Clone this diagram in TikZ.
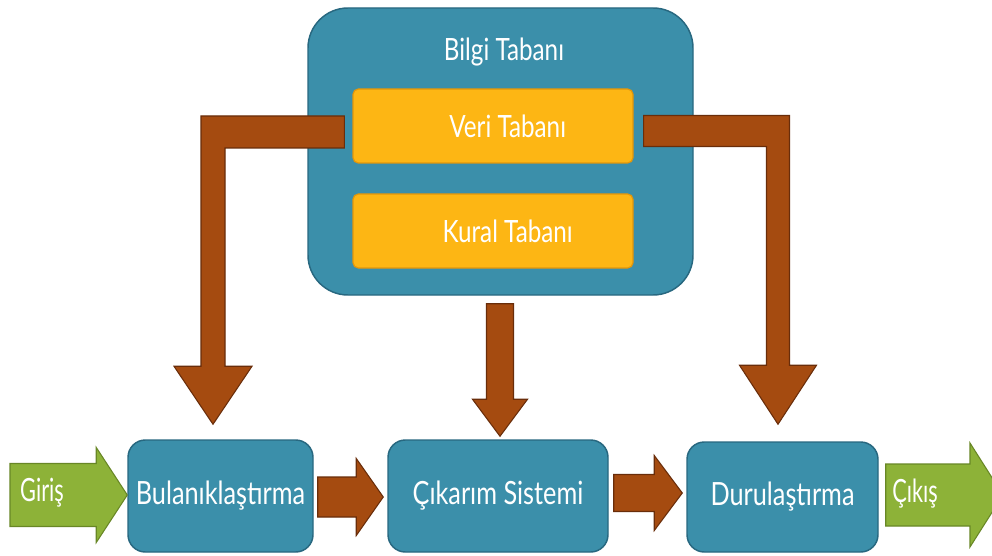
\documentclass[tikz,border=0pt]{standalone}
\usepackage{fontspec}
\setmainfont{Lato}[FakeStretch=0.79]
\newfontfamily\iofont{Lato}[FakeStretch=0.68]
\usetikzlibrary{calc}

\definecolor{boxteal}{RGB}{59,143,170}
\definecolor{tealedge}{RGB}{40,104,128}
\definecolor{gold}{RGB}{253,182,20}
\definecolor{goldedge}{RGB}{226,150,10}
\definecolor{arrowbrown}{RGB}{165,75,16}
\definecolor{brownedge}{RGB}{105,45,10}
\definecolor{arrowgreen}{RGB}{141,178,56}
\definecolor{greenedge}{RGB}{104,135,38}

\tikzset{
  lbl/.style={text=white, font=\fontsize{24}{27}\selectfont, inner sep=0pt},
  toplbl/.style={lbl, font=\fontsize{23}{26}\selectfont},
  iolbl/.style={lbl, font=\iofont\fontsize{24}{27}\selectfont},
  container/.style={draw=tealedge, fill=boxteal, line width=1.1pt, rounded corners=30pt, inner sep=0pt},
  dbbox/.style={toplbl, draw=goldedge, fill=gold, line width=0.9pt, rounded corners=4pt},
  stage/.style={lbl, draw=tealedge, fill=boxteal, line width=1.1pt, rounded corners=13pt},
  brownarrow/.style={fill=arrowbrown, draw=brownedge, line width=0.8pt, line join=miter},
  greenarrow/.style={fill=arrowgreen, draw=greenedge, line width=0.8pt, line join=miter},
}

% straight block arrows: #1 style, #2 tail, #3 tip, #4 shaft half width,
% #5 head half width, #6 head length (all in picture units)
\newcommand\rightblock[6]{%
  \filldraw[#1] ($(#2)+(0,-#4)$) -- ($(#3)+(-#6,-#4)$) -- ($(#3)+(-#6,-#5)$)
    -- (#3) -- ($(#3)+(-#6,#5)$) -- ($(#3)+(-#6,#4)$) -- ($(#2)+(0,#4)$) -- cycle;}
\newcommand\downblock[6]{%
  \filldraw[#1] ($(#2)+(-#4,0)$) -- ($(#3)+(-#4,-#6)$) -- ($(#3)+(-#5,-#6)$)
    -- (#3) -- ($(#3)+(#5,-#6)$) -- ($(#3)+(#4,-#6)$) -- ($(#2)+(#4,0)$) -- cycle;}

\begin{document}
\begin{tikzpicture}[x=0.75pt, y=-0.75pt]
  \useasboundingbox (0,0) rectangle (992,556);
  \fill[white] (0,0) rectangle (992,556);
  \clip (0,0) rectangle (992,556);

  % knowledge base with its two stores
  \node[container, minimum width=288.75pt, minimum height=215.25pt] (bilgi) at (500.5,151.5) {};
  \node[toplbl] (bilgititle) at (504,52) {Bilgi Tabanı};
  \node[dbbox, minimum width=210pt, minimum height=55.5pt] (veri) at (493,126) {\hspace*{22pt}Veri Tabanı};
  \node[dbbox, minimum width=210pt, minimum height=55.5pt] (kural) at (493,231) {\hspace*{22pt}Kural Tabanı};

  % processing stages
  \node[stage, minimum width=138.75pt, minimum height=84pt] (bul) at (220.5,496) {Bulanıklaştırma};
  \node[stage, minimum width=165pt, minimum height=84pt] (cik) at (498,496) {Çıkarım Sistemi};
  \node[stage, minimum width=143.25pt, minimum height=82.5pt] (dur) at (782.5,497) {Durulaştırma};

  % elbow arrows from the data base down to the outer stages
  \coordinate (sL) at ($(veri.west)+(-8,6)$);
  \coordinate (tL) at ($(bul.north)+(-7.5,-15)$);
  \filldraw[brownarrow] ($(sL)+(0,-16)$) -- ($(tL |- sL)+(-12,-16)$) -- ($(tL)+(-12,-58)$)
    -- ($(tL)+(-39,-58)$) -- (tL) -- ($(tL)+(39,-58)$) -- ($(tL)+(12,-58)$)
    -- ($(tL |- sL)+(12,16)$) -- ($(sL)+(0,16)$) -- cycle;

  \coordinate (sR) at ($(veri.east)+(10,5)$);
  \coordinate (tR) at ($(dur.north)+(-4.5,-17)$);
  \filldraw[brownarrow] ($(sR)+(0,-15.5)$) -- ($(tR |- sR)+(11.5,-15.5)$) -- ($(tR)+(11.5,-59)$)
    -- ($(tR)+(38.5,-59)$) -- (tR) -- ($(tR)+(-38.5,-59)$) -- ($(tR)+(-11.5,-59)$)
    -- ($(tR |- sR)+(-11.5,15.5)$) -- ($(sR)+(0,15.5)$) -- cycle;

  % knowledge base to inference
  \coordinate (sM) at ($(bilgi.south)+(-0.5,8)$);
  \coordinate (tM) at ($(cik.north)+(2,-3)$);
  \downblock{brownarrow}{sM}{tM}{13.5}{27.5}{37}

  % flow between the stages
  \coordinate (s1) at ($(bul.east)+(4,1)$);
  \coordinate (t1) at ($(cik.west)+(-4,1)$);
  \rightblock{brownarrow}{s1}{t1}{20}{38.5}{27}
  \coordinate (s2) at ($(cik.east)+(5,-3)$);
  \coordinate (t2) at ($(dur.west)+(-4,-4)$);
  \rightblock{brownarrow}{s2}{t2}{18.5}{37.5}{28}

  % input and output
  \coordinate (gin) at (10,495);
  \coordinate (tin) at ($(bul.west)+(0,-1)$);
  \rightblock{greenarrow}{gin}{tin}{31.5}{47.5}{31}
  \node[iolbl] (giristxt) at (42,493) {Giriş};

  \coordinate (sout) at ($(dur.east)+(7,-2)$);
  \coordinate (tout) at (1003,495);
  \rightblock{greenarrow}{sout}{tout}{31}{52}{33}
  \node[iolbl] (cikistxt) at (915,494) {Çıkış};
\end{tikzpicture}
\end{document}
